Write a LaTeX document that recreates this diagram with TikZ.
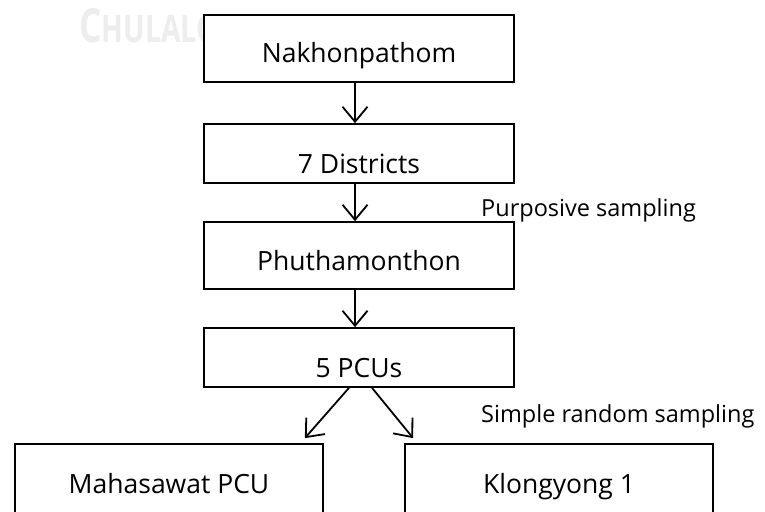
\documentclass[tikz,border=0pt]{standalone}
\usepackage{fontspec}
\setmainfont{Open Sans}
\usetikzlibrary{arrows.meta,calc}
\begin{document}
\begin{tikzpicture}[x=1pt,y=-1pt,
  box/.style={draw,line width=1.7pt,fill=white,inner sep=0pt,anchor=base,
    font=\fontsize{26.5}{30}\selectfont},
  lbl/.style={inner sep=0pt,anchor=base west,font=\fontsize{23.5}{28}\selectfont},
  arr/.style={line width=1.8pt,-{Straight Barb[length=15pt,width=25pt,line width=1.8pt]}},
  wmark/.style={inner sep=0pt,anchor=base west,text=black!7,font=\fontsize{38}{40}\bfseries}]
\clip (0,0) rectangle (765,511);
\fill[white] (0,0) rectangle (765,511);
\node[wmark] (wm) at (79,42) {\scalebox{0.75}[1]{{\fontsize{47}{50}\selectfont C}HULALO}};
\node[box,minimum width=310pt,text height=48pt,text depth=19pt] (b1) at (359,63) {Nakhonpathom};
\node[box,minimum width=310pt,text height=49pt,text depth=10pt] (b2) at (359,173) {7 Districts};
\node[box,minimum width=310pt,text height=48pt,text depth=19pt] (b3) at (359,270) {Phuthamonthon};
\node[box,minimum width=310pt,text height=49pt,text depth=10pt] (b4) at (359,377) {5 PCUs};
\node[box,minimum width=308pt,text height=49pt,text depth=40pt] (b5) at (169,493) {Mahasawat PCU};
\node[box,minimum width=308pt,text height=49pt,text depth=40pt] (b6) at (559,493) {Klongyong 1};
\node[lbl] (lp) at (481,216) {Purposive sampling};
\node[lbl] (ls) at (481,422) {Simple random sampling};
\draw[arr] ([xshift=-4pt]b1.south) -- ([xshift=-4pt]b2.north);
\draw[arr] ([xshift=-4pt]b2.south) -- ([xshift=-4pt]b3.north);
\draw[arr] ([xshift=-4pt]b3.south) -- ([xshift=-4pt]b4.north);
\draw[arr] ($(b4.south)+(-10,0)$) -- ($(b5.north east)+(-19,-5)$);
\draw[arr] ($(b4.south)+(13,0)$) -- ($(b6.north west)+(9,-5)$);
\end{tikzpicture}
\end{document}
